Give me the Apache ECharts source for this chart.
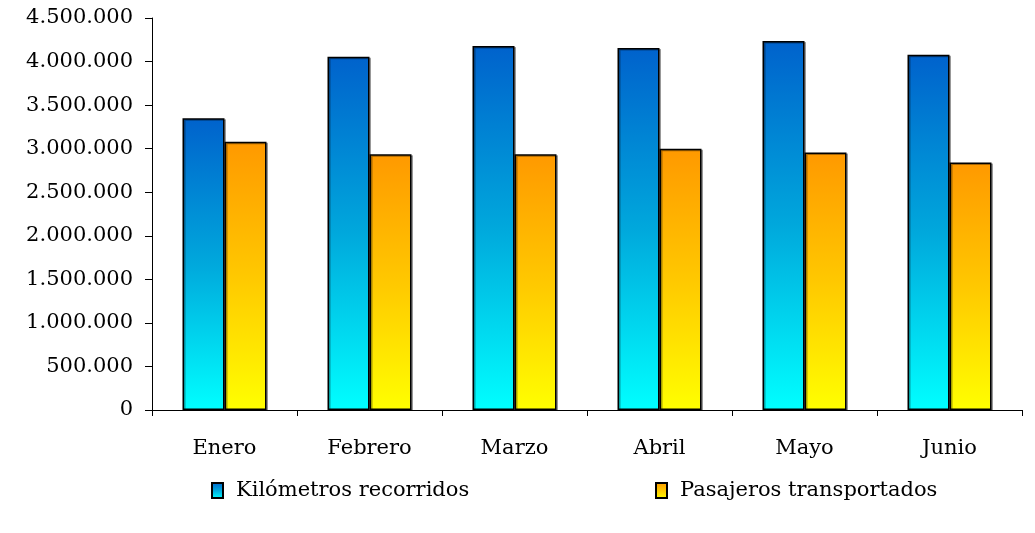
<!DOCTYPE html>
<html><head><meta charset="utf-8">
<script src="https://cdn.jsdelivr.net/npm/echarts@6/dist/echarts.min.js"></script>
<style>html,body{margin:0;padding:0;background:#fff}#c{width:1035px;height:533px}</style>
</head><body><div id="c"></div>
<script>
const categories = ['Enero','Febrero','Marzo','Abril','Mayo','Junio'];
const kilometros = [3350000, 4055000, 4178000, 4155000, 4235000, 4078000];
const pasajeros = [3078000, 2937000, 2937000, 3000000, 2956000, 2840000];
const seriesNames = ['Kilómetros recorridos','Pasajeros transportados'];

const font = 'DejaVu Serif';
function grad(top, mid, bottom){
  return new echarts.graphic.LinearGradient(0,0,0,1,[
    {offset:0,color:top},{offset:0.5,color:mid},{offset:1,color:bottom}]);
}
const blue = grad('#0062CC','#00A8DC','#00FFFF');
const orange = grad('#FF9900','#FFC800','#FFFF00');
function fmt(v){return String(v).replace(/\B(?=(\d{3})+(?!\d))/g,'.');}

const chart = echarts.init(document.getElementById('c'), null, {renderer:'canvas'});
chart.setOption({
  animation:false,
  textStyle:{fontFamily:font},
  grid:{left:152,right:13,top:18,bottom:123,containLabel:false},
  legend:[
    {data:[seriesNames[0]],icon:'rect',left:206,top:475,itemWidth:11,itemHeight:15,itemGap:0,
     textStyle:{fontFamily:font,fontSize:21,color:'#000',padding:[0,0,0,8]}},
    {data:[seriesNames[1]],icon:'rect',left:650,top:475,itemWidth:11,itemHeight:15,itemGap:0,
     textStyle:{fontFamily:font,fontSize:21,color:'#000',padding:[0,0,0,8]}}
  ],
  xAxis:{type:'category',data:categories,
    axisLine:{lineStyle:{color:'#000',width:1}},
    axisTick:{show:true,length:6,alignWithLabel:false,lineStyle:{color:'#000'}},
    axisLabel:{color:'#000',fontFamily:font,fontSize:21,margin:28}},
  yAxis:{type:'value',min:0,max:4500000,interval:500000,
    axisLine:{show:true,lineStyle:{color:'#000',width:1}},
    axisTick:{show:true,length:7,lineStyle:{color:'#000'}},
    splitLine:{show:false},
    axisLabel:{color:'#000',fontFamily:font,fontSize:21,margin:19,formatter:fmt}},
  series:[
    {name:seriesNames[0],type:'bar',data:kilometros,barWidth:42,barGap:'0%',
     itemStyle:{color:blue,borderColor:'#000',borderWidth:1.5,
       shadowColor:'rgba(0,0,0,0.35)',shadowOffsetX:1.5,shadowOffsetY:1}},
    {name:seriesNames[1],type:'bar',data:pasajeros,barWidth:42,barGap:'0%',
     itemStyle:{color:orange,borderColor:'#000',borderWidth:1.5,
       shadowColor:'rgba(0,0,0,0.35)',shadowOffsetX:1.5,shadowOffsetY:1}}
  ]
});
</script></body></html>
